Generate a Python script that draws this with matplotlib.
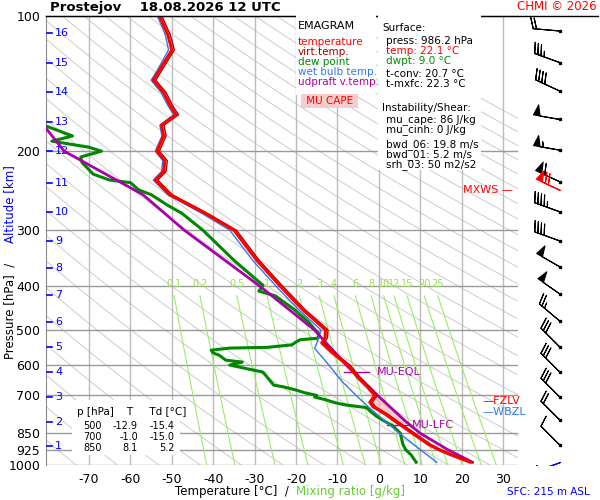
import numpy as np
import matplotlib
matplotlib.use("Agg")
import matplotlib.pyplot as plt

plt.rcParams['axes.unicode_minus'] = False

# ---- data ----
t_p = [986, 950, 925, 900, 850, 800, 770, 742, 725, 700, 670, 640, 600, 560, 535, 520, 500,
       450, 400, 350, 300, 275, 250, 232, 222, 210, 200, 185, 175, 166, 158, 148, 139, 132, 119, 110, 100]
t_T = [22.1, 17.5, 14.5, 12.0, 8.1, 4.0, 1.5, -1.4, -2.2, -1.0, -2.8, -5.0, -7.5, -11.5, -13.8, -13.0, -12.9,
       -18.5, -23.8, -29.5, -35.0, -42.0, -50.5, -54.0, -52.0, -51.7, -53.6, -52.0, -52.5, -49.0, -50.5,
       -52.0, -54.5, -53.0, -50.0, -51.0, -53.0]

td_p = [986, 950, 925, 900, 850, 820, 800, 780, 760, 745, 735, 727, 715, 706, 700, 690, 681, 670, 664,
        637, 621, 610, 599, 590, 584, 570, 563, 555, 549, 547, 540, 532, 526, 522, 510, 500, 480, 450,
        420, 410, 398, 350, 300, 275, 264, 250, 244, 235, 232, 225, 212, 206, 200, 196, 190, 185, 175, 168]
td_T = [9.0, 7.8, 6.5, 5.8, 5.2, 3.5, 1.5, -0.5, -2.0, -3.0, -8.0, -10.5, -13.0, -15.5, -15.0, -18.0,
        -20.0, -23.0, -25.4, -27.0, -28.0, -32.0, -36.0, -33.0, -37.0, -38.5, -40.0, -40.5, -36.0, -27.0,
        -21.0, -20.0, -19.0, -14.7, -14.5, -15.4, -17.0, -20.5, -25.0, -29.0, -28.0, -35.0, -42.5, -47.6,
        -51.0, -55.0, -58.0, -60.0, -65.0, -69.0, -71.7, -72.0, -67.0, -70.0, -79.0, -74.0, -81.0, -83.0]

wb_p = [986, 925, 850, 750, 700, 650, 600, 550, 520, 500, 450, 400, 350, 300, 275, 250, 232, 222, 210,
        200, 185, 175, 166, 158, 148, 139, 132, 119, 110, 100]
wb_T = [14.0, 10.0, 5.0, -2.0, -5.5, -9.0, -12.0, -15.5, -14.5, -14.0, -19.5, -24.8, -30.5, -36.0, -42.8,
        -51.0, -54.5, -52.5, -52.2, -54.0, -52.4, -52.9, -49.6, -51.0, -52.6, -55.0, -53.5, -50.8, -51.6, -53.5]

pc_p = [986, 925, 850, 800, 700, 600, 500, 400, 300, 250, 200, 175]
pc_T = [22.6, 16.7, 10.0, 6.5, -0.3, -7.8, -15.6, -28.7, -47.0, -57.0, -76.0, -81.0]

alt_km = list(range(1, 17))
alt_p = [907, 802, 706, 621, 546, 480, 418, 364, 317, 273, 235, 200, 172, 148, 127, 109]

mix_w = [0.1, 0.2, 0.5, 1, 2, 3, 4, 6, 8, 10, 12, 15, 20, 25]
mix_lbl = ['0.1', '0.2', '0.5', '1', '2', '3', '4', '6', '8', '10', '12', '15', '20', '25']

p_lines = [200, 300, 400, 500, 600, 700, 850, 925, 1000]
p_ticks = [100, 200, 300, 400, 500, 600, 700, 850, 925, 1000]

wind_p = [108, 127, 147, 170, 199, 234, 273, 317, 362, 416, 478, 546, 621, 706, 794, 903]
wind_spd = [20, 35, 40, 50, 55, 60, 45, 40, 50, 50, 25, 30, 30, 30, 20, 10]
wind_dir = [275, 290, 295, 280, 280, 295, 290, 290, 300, 305, 310, 315, 315, 315, 315, 315]
mxws_p, mxws_spd, mxws_dir = 244, 70, 295
sfc_p, sfc_spd, sfc_dir = 985, 5, 250

tbl_p = ['500', '700', '850']
tbl_t = ['-12.9', '-1.0', '8.1']
tbl_td = ['-15.4', '-15.0', '5.2']

# ---- figure ----
fig = plt.figure(figsize=(6, 5), dpi=100)
ax = fig.add_axes([46/600, 35/500, 472/600, 449/500])
ax.set_yscale('log')
ax.set_ylim(1000, 100)
ax.set_xlim(-80.4, 33.6)
for s in ['right', 'bottom']:
    ax.spines[s].set_visible(False)
ax.spines['left'].set_color('#888888')

pp = np.logspace(2, 3, 60)
for th in range(180, 520, 10):
    ax.plot(th * (pp/1000)**0.286 - 273.15, pp, color='#cccccc', lw=0.7, zorder=1)
for t in range(-70, 40, 10):
    ax.axvline(t, color='#bbbbbb', lw=1, zorder=1)
for p in p_lines:
    ax.axhline(p, color='#999999', lw=1, zorder=1)

pm = np.logspace(np.log10(420), 3, 30)
for w, lab in zip(mix_w, mix_lbl):
    e = w * pm / (622 + w)
    le = np.log(e / 6.112)
    td = 243.5 * le / (17.67 - le)
    ax.plot(td, pm, color='#99ee66', lw=0.8, zorder=2)
    ax.text(td[0], 405, lab, color='#99dd55', fontsize=7, ha='center', va='bottom')

# CAPE shading
pf = np.logspace(np.log10(625), np.log10(805), 40)
tp = np.interp(np.log(pf), np.log(pc_p[::-1]), pc_T[::-1])
tt = np.interp(np.log(pf), np.log(t_p[::-1]), t_T[::-1])
ax.fill_betweenx(pf, tt, tp, where=tp > tt, color='#f4b8b8', alpha=0.7, zorder=3)

ax.plot(td_T, td_p, color='#008800', lw=2.2, zorder=4)
ax.plot(wb_T, wb_p, color='#3377ee', lw=1, zorder=5)
ax.plot(pc_T, pc_p, color='#aa00aa', lw=2, zorder=6)
ax.plot(np.array(t_T) + 0.6, t_p, color='#aa0000', lw=1, zorder=6)
ax.plot(t_T, t_p, color='#ff0000', lw=2.2, zorder=7)

ax.set_yticks(p_ticks)
ax.set_yticklabels([str(p) for p in p_ticks], fontsize=9)
ax.minorticks_off()
ax.tick_params(axis='y', length=0, pad=4)
ax.set_xticks(range(-70, 40, 10))
ax.tick_params(axis='x', length=0, labelsize=9, pad=6)

for km, p in zip(alt_km, alt_p):
    ax.plot([-80.2, -78.9], [p, p], color='#0000ff', lw=1.2, zorder=8)
    ax.text(-78.2, p, str(km), color='#0000ff', fontsize=8, va='center')

# level markers
ax.plot([-8.5, -2.5], [621, 621], color='#aa00aa', lw=1)
ax.text(-0.5, 621, 'MU-EQL', color='#aa00aa', fontsize=8, va='center')
ax.plot([2, 7.5], [814, 814], color='#aa00aa', lw=1)
ax.text(8, 814, 'MU-LFC', color='#aa00aa', fontsize=8, va='center')

# table
fig.patches.append(plt.Rectangle((72/600, 1-455/500), 108/600, 55/500, transform=fig.transFigure,
                                 fc='white', ec='none', zorder=10))
fig.text(77/600, 1-412/500, 'p [hPa]    T     Td [°C]', fontsize=7.5, va='center', zorder=11)
for i, (a, b, c) in enumerate(zip(tbl_p, tbl_t, tbl_td)):
    y = 1 - (426 + 11*i)/500
    fig.text(102/600, y, a, fontsize=7, ha='right', va='center', zorder=11)
    fig.text(138/600, y, b, fontsize=7, ha='right', va='center', zorder=11)
    fig.text(175/600, y, c, fontsize=7, ha='right', va='center', zorder=11)

# legend box
fig.patches.append(plt.Rectangle((296/600, 1-95/500), 80/600, 80/500, transform=fig.transFigure,
                                 fc='white', ec='none', zorder=10))
fig.text(298/600, 1-26/500, 'EMAGRAM', fontsize=8, va='center', zorder=11)
leg = [('temperature', '#ff0000'), ('virt.temp.', '#aa0000'), ('dew point', '#008800'),
       ('wet bulb temp.', '#3377ee'), ('udpraft v.temp.', '#aa00aa')]
for i, (s, c) in enumerate(leg):
    fig.text(298/600, 1-(42+10*i)/500, s, color=c, fontsize=7.5, va='center', zorder=11)
fig.text(303/600, 1-101/500, ' MU CAPE ', color='#ff0000', fontsize=7.5, va='center', zorder=11,
         bbox=dict(fc='#f8cccc', ec='none', pad=1.5))

# surface box
fig.patches.append(plt.Rectangle((378/600, 1-170/500), 103/600, 155/500, transform=fig.transFigure,
                                 fc='white', ec='none', zorder=10))
info = [('Surface:', 'black', 28, 382), ('press: 986.2 hPa', 'black', 41, 386),
        ('temp: 22.1 °C', '#ff0000', 51, 386), ('dwpt: 9.0 °C', '#008800', 61, 386),
        ('t-conv: 20.7 °C', 'black', 74, 386), ('t-mxfc: 22.3 °C', 'black', 84, 386),
        ('Instability/Shear:', 'black', 108, 382), ('mu_cape: 86 J/kg', 'black', 120, 386),
        ('mu_cinh: 0 J/kg', 'black', 130, 386), ('bwd_06: 19.8 m/s', 'black', 145, 386),
        ('bwd_01: 5.2 m/s', 'black', 155, 386), ('srh_03: 50 m2/s2', 'black', 165, 386)]
for s, c, y, x in info:
    fig.text(x/600, 1-y/500, s, color=c, fontsize=7.5, va='center', zorder=11)

# wind column
axw = fig.add_axes([518/600, 35/500, 82/600, 449/500], sharey=ax)
axw.set_xlim(0, 1)
axw.axis('off')
wx = 0.51
wd = np.radians(wind_dir)
u = -np.array(wind_spd) * np.sin(wd)
v = -np.array(wind_spd) * np.cos(wd)
bk = dict(length=6.2, lw=0.8)
axw.barbs(np.full(len(wind_p), wx), wind_p, u, v, color='black', **bk)
axw.plot(np.full(len(wind_p), wx), wind_p, 's', ms=2, color='black')
r = np.radians(mxws_dir)
axw.barbs([wx], [mxws_p], [-mxws_spd*np.sin(r)], [-mxws_spd*np.cos(r)], color='red', **bk)
r = np.radians(sfc_dir)
axw.barbs([wx], [sfc_p], [-sfc_spd*np.sin(r)], [-sfc_spd*np.cos(r)], color='#0000ff', **bk)
fig.text(513/600, 1-190/500, 'MXWS —', color='#ff0000', fontsize=8, va='center', ha='right')
fig.text(482/600, 1-401/500, '—FZLV', color='#ff0000', fontsize=8, va='center')
fig.text(482/600, 1-412/500, '—WBZL', color='#3377ee', fontsize=8, va='center')

# top line & titles
fig.add_artist(plt.Line2D([46/600, 598/600], [1-16/500, 1-16/500], color='black', lw=1))
fig.text(50/600, 1-7/500, 'Prostejov    18.08.2026 12 UTC', fontsize=9.5, fontweight='bold', va='center')
fig.text(597/600, 1-7/500, 'CHMI © 2026', color='#ff0000', fontsize=8.5, va='center', ha='right')
fig.text(10/600, 1-255/500, 'Pressure [hPa]  /  ', rotation=90, fontsize=8.5, va='top', ha='center')
fig.text(10/600, 1-243/500, 'Altitude [km]', rotation=90, fontsize=8.5, va='bottom', ha='center', color='#0000ff')
fig.text(296/600, 1-492/500, 'Temperature [°C]  /  ', fontsize=8.5, va='center', ha='right')
fig.text(296/600, 1-492/500, 'Mixing ratio [g/kg]', fontsize=8.5, va='center', ha='left', color='#66cc33')
fig.text(590/600, 1-492/500, 'SFC: 215 m ASL', fontsize=7.5, va='center', ha='right', color='#0000ff')

fig.savefig('out.png', dpi=100)
